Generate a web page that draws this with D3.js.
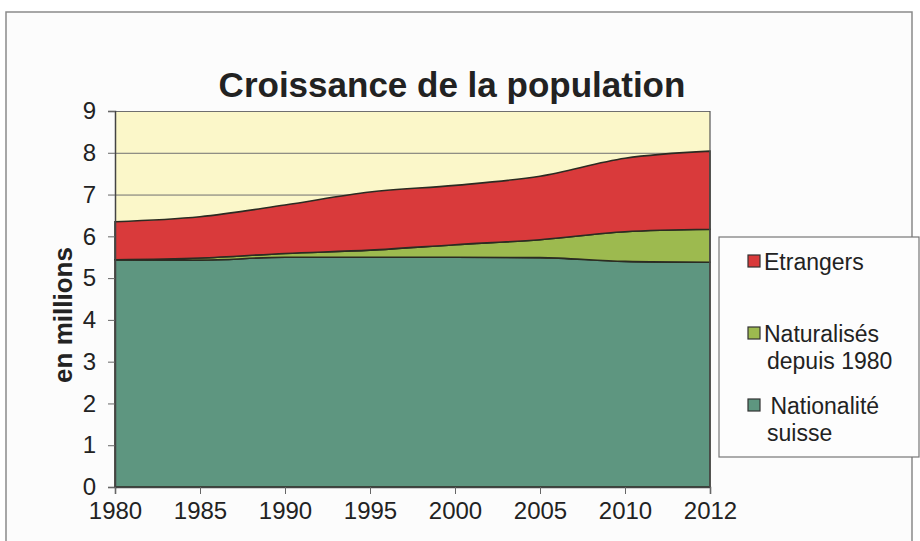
<!DOCTYPE html>
<html>
<head>
<meta charset="utf-8">
<script src="https://cdn.jsdelivr.net/npm/d3@7"></script>
<style>
  body { margin: 0; background: #ffffff; }
  text { font-family: "Liberation Sans", Arial, sans-serif; fill: #222; }
</style>
</head>
<body>
<div id="chart-area"></div>
<script>
// population suisse, en millions
const years = ['1980', '1985', '1990', '1995', '2000', '2005', '2010', '2012'];
const suisses = [5.44, 5.43, 5.50, 5.50, 5.50, 5.49, 5.40, 5.38];
const naturalises = [0.00, 0.05, 0.09, 0.17, 0.30, 0.43, 0.71, 0.79];
const etrangers = [0.91, 0.99, 1.16, 1.39, 1.42, 1.52, 1.76, 1.87];
const yTicks = [0, 1, 2, 3, 4, 5, 6, 7, 8, 9];

const keys = ['suisses', 'naturalises', 'etrangers'];
const colors = { suisses: '#5e9680', naturalises: '#9dba4f', etrangers: '#d93a3b' };

const rows = years.map((yr, i) => ({
    year: yr,
    suisses: suisses[i],
    naturalises: naturalises[i],
    etrangers: etrangers[i]
}));

const W = 920, H = 541;
const plot = { left: 115, right: 710, top: 111, bottom: 487 };

const svg = d3.select('#chart-area')
    .append('svg')
    .attr('width', W)
    .attr('height', H);

// cadre extérieur
svg.append('rect')
    .attr('x', 6).attr('y', 12)
    .attr('width', 906).attr('height', 540)
    .attr('fill', '#fcfcfc')
    .attr('stroke', '#8a8a8a')
    .attr('stroke-width', 1.5);

const x = d3.scalePoint()
    .domain(years)
    .range([plot.left, plot.right]);

const y = d3.scaleLinear()
    .domain([0, 9])
    .range([plot.bottom, plot.top]);

// fond de la zone de tracé
svg.append('rect')
    .attr('x', plot.left).attr('y', plot.top)
    .attr('width', plot.right - plot.left)
    .attr('height', plot.bottom - plot.top)
    .attr('fill', '#fbf7c9');

// grille
svg.append('g')
    .attr('transform', `translate(${plot.left},0)`)
    .call(d3.axisLeft(y).tickValues(yTicks).tickSize(-(plot.right - plot.left)).tickFormat(''))
    .call(g => g.select('.domain').remove())
    .call(g => g.selectAll('line').attr('stroke', '#6f6f6f').attr('stroke-width', 1));

const stacked = d3.stack().keys(keys)(rows);

const area = d3.area()
    .x(d => x(d.data.year))
    .y0(d => y(d[0]))
    .y1(d => y(d[1]))
    .curve(d3.curveMonotoneX);

svg.selectAll('.layer')
    .data(stacked)
    .enter()
    .append('path')
    .attr('class', 'layer')
    .attr('d', area)
    .attr('fill', d => colors[d.key])
    .attr('stroke', '#2b2b22')
    .attr('stroke-width', 1.6);

// axes
svg.append('g')
    .attr('transform', `translate(${plot.left},0)`)
    .call(d3.axisLeft(y).tickValues(yTicks).tickSize(7).tickPadding(12))
    .call(g => g.select('.domain').attr('stroke', '#444').attr('stroke-width', 1.5))
    .call(g => g.selectAll('line').attr('stroke', '#666'))
    .call(g => g.selectAll('text').attr('font-size', 24).attr('fill', '#222')
        .style('font-family', '"Liberation Sans", Arial, sans-serif'));

svg.append('g')
    .attr('transform', `translate(0,${plot.bottom})`)
    .call(d3.axisBottom(x).tickSize(7).tickPadding(8))
    .call(g => g.select('.domain').attr('stroke', '#444').attr('stroke-width', 1.5))
    .call(g => g.selectAll('line').attr('stroke', '#666'))
    .call(g => g.selectAll('text').attr('font-size', 24).attr('fill', '#222')
        .style('font-family', '"Liberation Sans", Arial, sans-serif'));

// bord droit
svg.append('line')
    .attr('x1', plot.right).attr('x2', plot.right)
    .attr('y1', plot.top).attr('y2', plot.bottom)
    .attr('stroke', '#555').attr('stroke-width', 1.2);

// titres
svg.append('text')
    .attr('x', 452)
    .attr('y', 97)
    .attr('text-anchor', 'middle')
    .attr('font-size', 35)
    .attr('font-weight', 'bold')
    .text('Croissance de la population');

svg.append('text')
    .attr('transform', 'rotate(-90)')
    .attr('x', -315)
    .attr('y', 72)
    .attr('text-anchor', 'middle')
    .attr('font-size', 26)
    .attr('font-weight', 'bold')
    .text('en millions');

// légende
const legend = svg.append('g');
legend.append('rect')
    .attr('x', 719).attr('y', 237)
    .attr('width', 200).attr('height', 220)
    .attr('fill', '#fdfdfd')
    .attr('stroke', '#777')
    .attr('stroke-width', 1.2);

const legendItems = [
    { key: 'etrangers', lines: ['Etrangers'], y: 255 },
    { key: 'naturalises', lines: ['Naturalisés', 'depuis 1980'], y: 327 },
    { key: 'suisses', lines: [' Nationalité', 'suisse'], y: 399 }
];

legendItems.forEach(item => {
    legend.append('rect')
        .attr('x', 748).attr('y', item.y)
        .attr('width', 12).attr('height', 12)
        .attr('fill', colors[item.key])
        .attr('stroke', '#333')
        .attr('stroke-width', 1.2);
    item.lines.forEach((ln, j) => {
        legend.append('text')
            .attr('x', j === 0 ? 764 : 767)
            .attr('y', item.y + 15 + j * 27)
            .attr('font-size', 23)
            .style('white-space', 'pre')
            .text(ln);
    });
});
</script>
</body>
</html>
